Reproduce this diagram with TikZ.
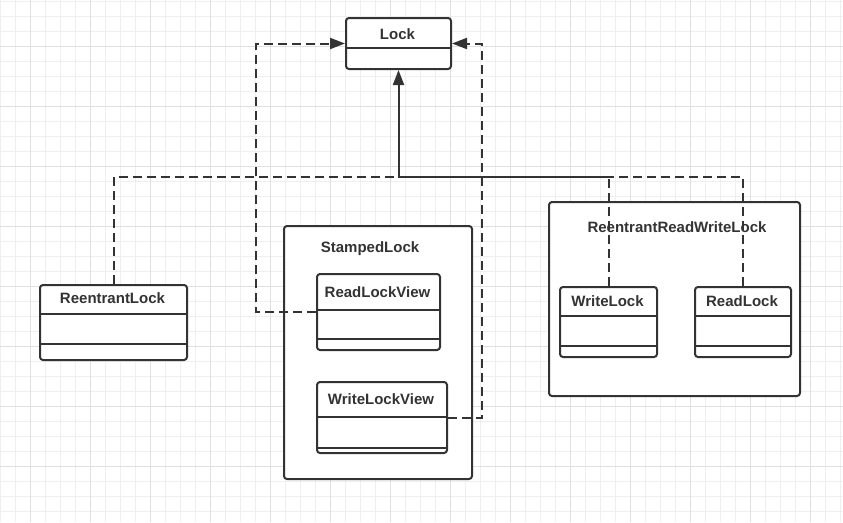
\documentclass[tikz,border=0pt]{standalone}
\usepackage{fontspec}
\setmainfont{Liberation Sans}
\usetikzlibrary{arrows.meta}
\definecolor{ink}{HTML}{333333}
\definecolor{gminor}{HTML}{EFEFEF}
\definecolor{gmajor}{HTML}{E0E0E0}
\begin{document}
\begin{tikzpicture}[x=1pt,y=-1pt,
  box/.style={draw=ink, line width=2pt, fill=white, rounded corners=3pt, anchor=north west, inner sep=0pt},
  lbl/.style={anchor=base, text=ink, font=\fontsize{15}{18}\selectfont\bfseries, inner sep=0pt},
  dsh/.style={draw=ink, line width=2pt, dash pattern=on 9pt off 5pt},
  sol/.style={draw=ink, line width=2pt},
  tip/.style={-{Triangle[length=15pt,width=11pt]}},
  divline/.style={draw=ink, line width=2pt}]
\useasboundingbox (0,0) rectangle (843,522);
\fill[white] (0,0) rectangle (843,522);
% grid
\foreach \x in {0,15,...,840} \draw[gminor, line width=1pt] (\x,0) -- (\x,522);
\foreach \y in {1,16,...,521} \draw[gminor, line width=1pt] (0,\y) -- (843,\y);
\foreach \x in {30,90,...,810} \draw[gmajor, line width=1pt] (\x,0) -- (\x,522);
\foreach \y in {46,106,...,466} \draw[gmajor, line width=1pt] (0,\y) -- (843,\y);
% containers
\node[box, minimum width=188pt, minimum height=253pt] (sl) at (283,225) {};
\node[box, minimum width=251pt, minimum height=194pt] (rrwl) at (548,201) {};
% class boxes (shapes, connectors drawn afterwards are placed using them)
\node[box, minimum width=105pt, minimum height=51pt] (lock) at (345,17) {};
\node[box, minimum width=147pt, minimum height=75pt] (rl) at (39,284) {};
\node[box, minimum width=123pt, minimum height=76pt] (rlv) at (316,273) {};
\node[box, minimum width=130pt, minimum height=71pt] (wlv) at (316,381) {};
\node[box, minimum width=97pt, minimum height=70pt] (wl) at (559,286) {};
\node[box, minimum width=96pt, minimum height=70pt] (rdl) at (694,286) {};
% dividers
\draw[divline] ([yshift=-31pt]lock.north west) -- ([yshift=-31pt]lock.north east);
\draw[divline] ([yshift=-30pt]rl.north west) -- ([yshift=-30pt]rl.north east);
\draw[divline] ([yshift=-60pt]rl.north west) -- ([yshift=-60pt]rl.north east);
\draw[divline] ([yshift=-37pt]rlv.north west) -- ([yshift=-37pt]rlv.north east);
\draw[divline] ([yshift=-66pt]rlv.north west) -- ([yshift=-66pt]rlv.north east);
\draw[divline] ([yshift=-36pt]wlv.north west) -- ([yshift=-36pt]wlv.north east);
\draw[divline] ([yshift=-67pt]wlv.north west) -- ([yshift=-67pt]wlv.north east);
\draw[divline] ([yshift=-30pt]wl.north west) -- ([yshift=-30pt]wl.north east);
\draw[divline] ([yshift=-60pt]wl.north west) -- ([yshift=-60pt]wl.north east);
\draw[divline] ([yshift=-30pt]rdl.north west) -- ([yshift=-30pt]rdl.north east);
\draw[divline] ([yshift=-60pt]rdl.north west) -- ([yshift=-60pt]rdl.north east);
% connectors
\coordinate (hy) at (0,177);
\coordinate (J) at (lock.south |- hy);
\coordinate (WC) at (wl.north |- hy);
\draw[dsh] (rl.north) |- (J);
\draw[dsh] (wl.north) -- (WC);
\draw[dsh] (rdl.north) |- (WC);
\draw[sol, tip] (WC) -- (J) -- (lock.south);
\draw[dsh, tip] (rlv.west) -- ++(-60,0) |- (lock.west);
\draw[dsh, tip] (wlv.east) -- ++(34,0) |- (lock.east);
% labels
\node[lbl] (tlock) at (397.5,39) {Lock};
\node[lbl] (trl) at (112.5,303.5) {ReentrantLock};
\node[lbl] (tsl) at (370,252.5) {StampedLock};
\node[lbl] (trlv) at (377.5,297.5) {ReadLockView};
\node[lbl] (twlv) at (381,404.5) {WriteLockView};
\node[lbl] (trrwl) at (677,232.5) {ReentrantReadWriteLock};
\node[lbl] (twl) at (607.5,306.5) {WriteLock};
\node[lbl] (trdl) at (742,306.5) {ReadLock};
\end{tikzpicture}
\end{document}
